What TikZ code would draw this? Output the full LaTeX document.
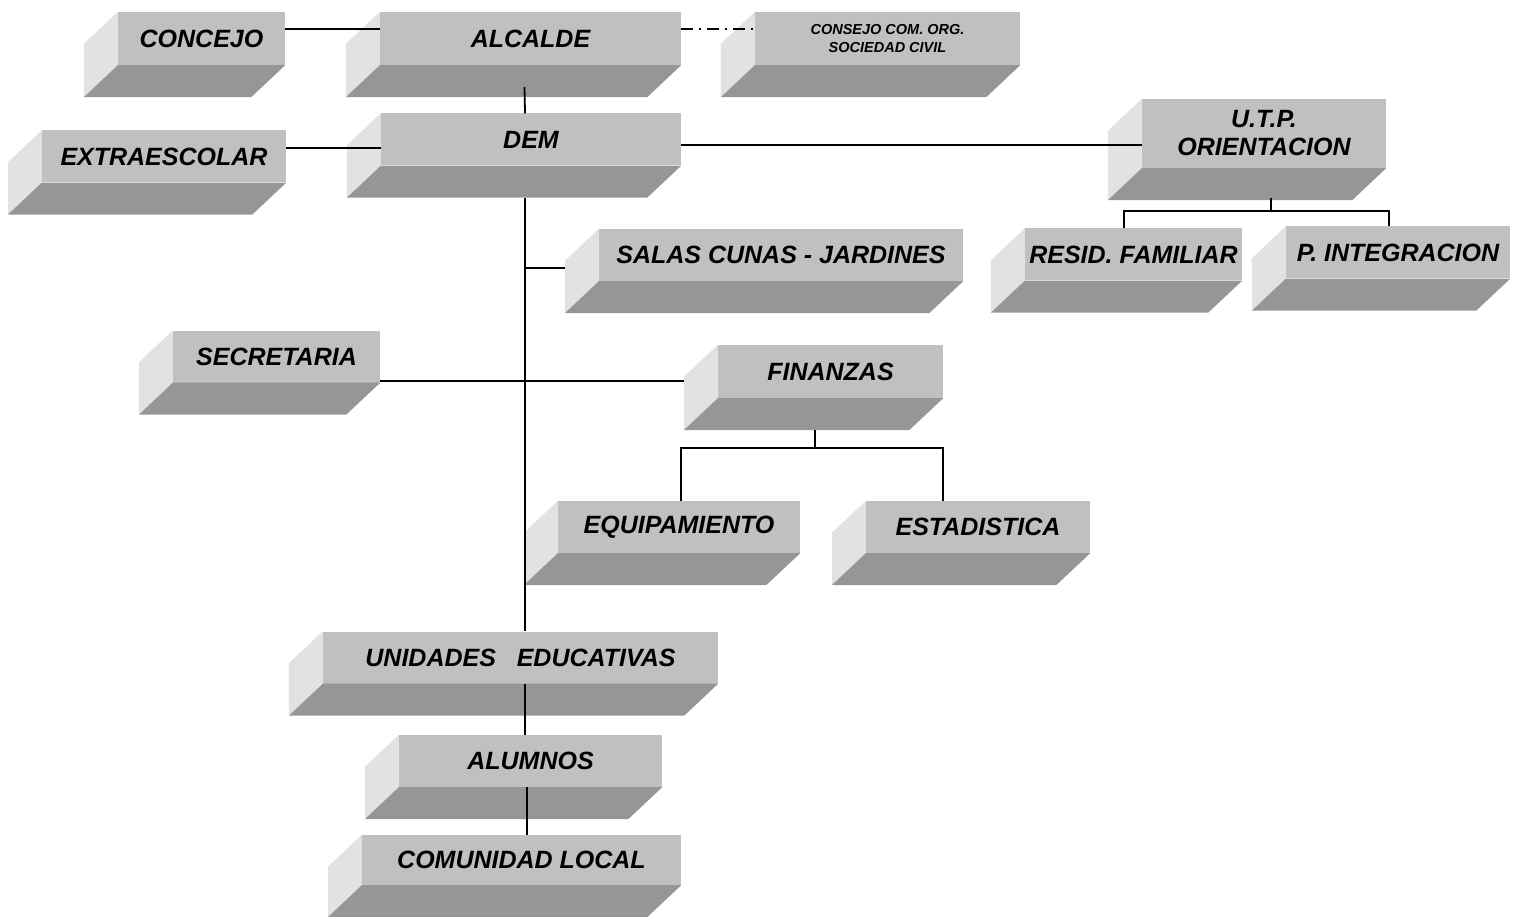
\documentclass[tikz,border=0pt]{standalone}
\usepackage{fontspec}
\setmainfont{Liberation Sans}
\definecolor{cara}{RGB}{192,192,192}
\definecolor{lado}{RGB}{226,226,226}
\definecolor{fondo}{RGB}{150,150,150}
\tikzset{caja/.style={fill=cara,inner sep=0pt,minimum height=52pt,align=center,font=\bfseries\itshape\fontsize{25}{28}\selectfont},
  linea/.style={line width=1.8pt}}
\begin{document}
\begin{tikzpicture}[x=1pt,y=-1pt]
\useasboundingbox (0,0) rectangle (1520,917);
\node[caja,minimum width=167pt,minimum height=53pt] (concejo) at (201.5,38.5) {CONCEJO};
\node[caja,minimum width=301pt,minimum height=53pt] (alcalde) at (530.5,38.5) {ALCALDE};
\node[caja,minimum width=265pt,minimum height=53pt,font=\bfseries\itshape\fontsize{14.5}{17.5}\selectfont] (consejo) at (887.5,38.5) {CONSEJO COM. ORG.\\SOCIEDAD CIVIL};
\node[caja,minimum width=244pt] (extra) at (164,156.5) {EXTRAESCOLAR};
\node[caja,minimum width=300pt] (dem) at (531,139.5) {DEM};
\node[caja,minimum width=244pt,minimum height=69pt] (utp) at (1264,133.5) {U.T.P.\\ORIENTACION};
\node[caja,minimum width=217pt] (resid) at (1133.5,254.5) {RESID. FAMILIAR};
\node[caja,minimum width=224pt] (integ) at (1398,252.5) {P. INTEGRACION};
\node[caja,minimum width=364pt] (salas) at (781,255) {SALAS CUNAS - JARDINES};
\node[caja,minimum width=207pt] (secre) at (276.5,356.5) {SECRETARIA};
\node[caja,minimum width=225pt,minimum height=53pt] (finan) at (830.5,371.5) {FINANZAS};
\node[caja,minimum width=242pt] (equipo) at (679,527) {EQUIPAMIENTO};
\node[caja,minimum width=224pt] (estad) at (978,527) {ESTADISTICA};
\node[caja,minimum width=395pt] (unidades) at (520.5,657.5) {UNIDADES\ \ \ EDUCATIVAS};
\node[caja,minimum width=263pt] (alumnos) at (530.5,761) {ALUMNOS};
\node[caja,minimum width=319pt,minimum height=50pt] (comunidad) at (521.5,860) {COMUNIDAD LOCAL};
% caras de cada caja
\foreach \n in {concejo,alcalde,consejo,extra,dem,utp,resid,integ,salas,secre,finan,equipo,estad,unidades,alumnos,comunidad}{
  \fill[lado] (\n.north west) -- (\n.south west) -- ++(-34,32) -- ([shift={(-34,32)}]\n.north west) -- cycle;
  \fill[fondo] (\n.south west) -- (\n.south east) -- ++(-34,32) -- ([shift={(-34,32)}]\n.south west) -- cycle;
}
% lineas
\draw[linea] ([yshift=9.5pt]concejo.east) -- ([yshift=9.5pt]concejo.east -| alcalde.west);
\draw[linea,dash pattern=on 12pt off 6pt on 2pt off 6pt] ([yshift=9.5pt]alcalde.east) -- ([yshift=9.5pt]alcalde.east -| consejo.west);
\draw[linea] ([xshift=-6pt,yshift=-22pt]alcalde.south) -- ([xshift=-6pt]dem.north);
\draw[linea] ([yshift=8.5pt]extra.east) -- ([yshift=8.5pt]extra.east -| dem.west);
\draw[linea] ([yshift=-5.5pt]dem.east) -- ([yshift=-5.5pt]dem.east -| utp.west);
\coordinate (tronco) at ([xshift=-6pt,yshift=-32pt]dem.south);
\draw[linea] (tronco) -- (tronco |- unidades.north);
\coordinate (salasl) at ([xshift=-34pt,yshift=-13pt]salas.west);
\draw[linea] (tronco |- salasl) -- (salasl);
\coordinate (secrel) at ([yshift=-24.5pt]secre.east);
\draw[linea] (secrel) -- ([xshift=-34pt]secrel -| finan.west);
\draw[linea] ([xshift=-15.5pt,yshift=-32pt]finan.south) -- ++(0,18) coordinate (fbus);
\draw[linea] ([xshift=2pt]equipo.north) |- (fbus) -| ([xshift=-35pt]estad.north);
\draw[linea] ([xshift=7pt,yshift=-30pt]utp.south) -- ++(0,13) coordinate (ubus);
\draw[linea] ([xshift=-9.5pt]resid.north) |- (ubus) -| ([xshift=-9pt]integ.north);
\draw[linea] ([xshift=4.5pt]unidades.south) -- ([xshift=4.5pt]unidades.south |- alumnos.north);
\draw[linea] ([xshift=-3.5pt]alumnos.south) -- ([xshift=-3.5pt]alumnos.south |- comunidad.north);
\end{tikzpicture}
\end{document}
